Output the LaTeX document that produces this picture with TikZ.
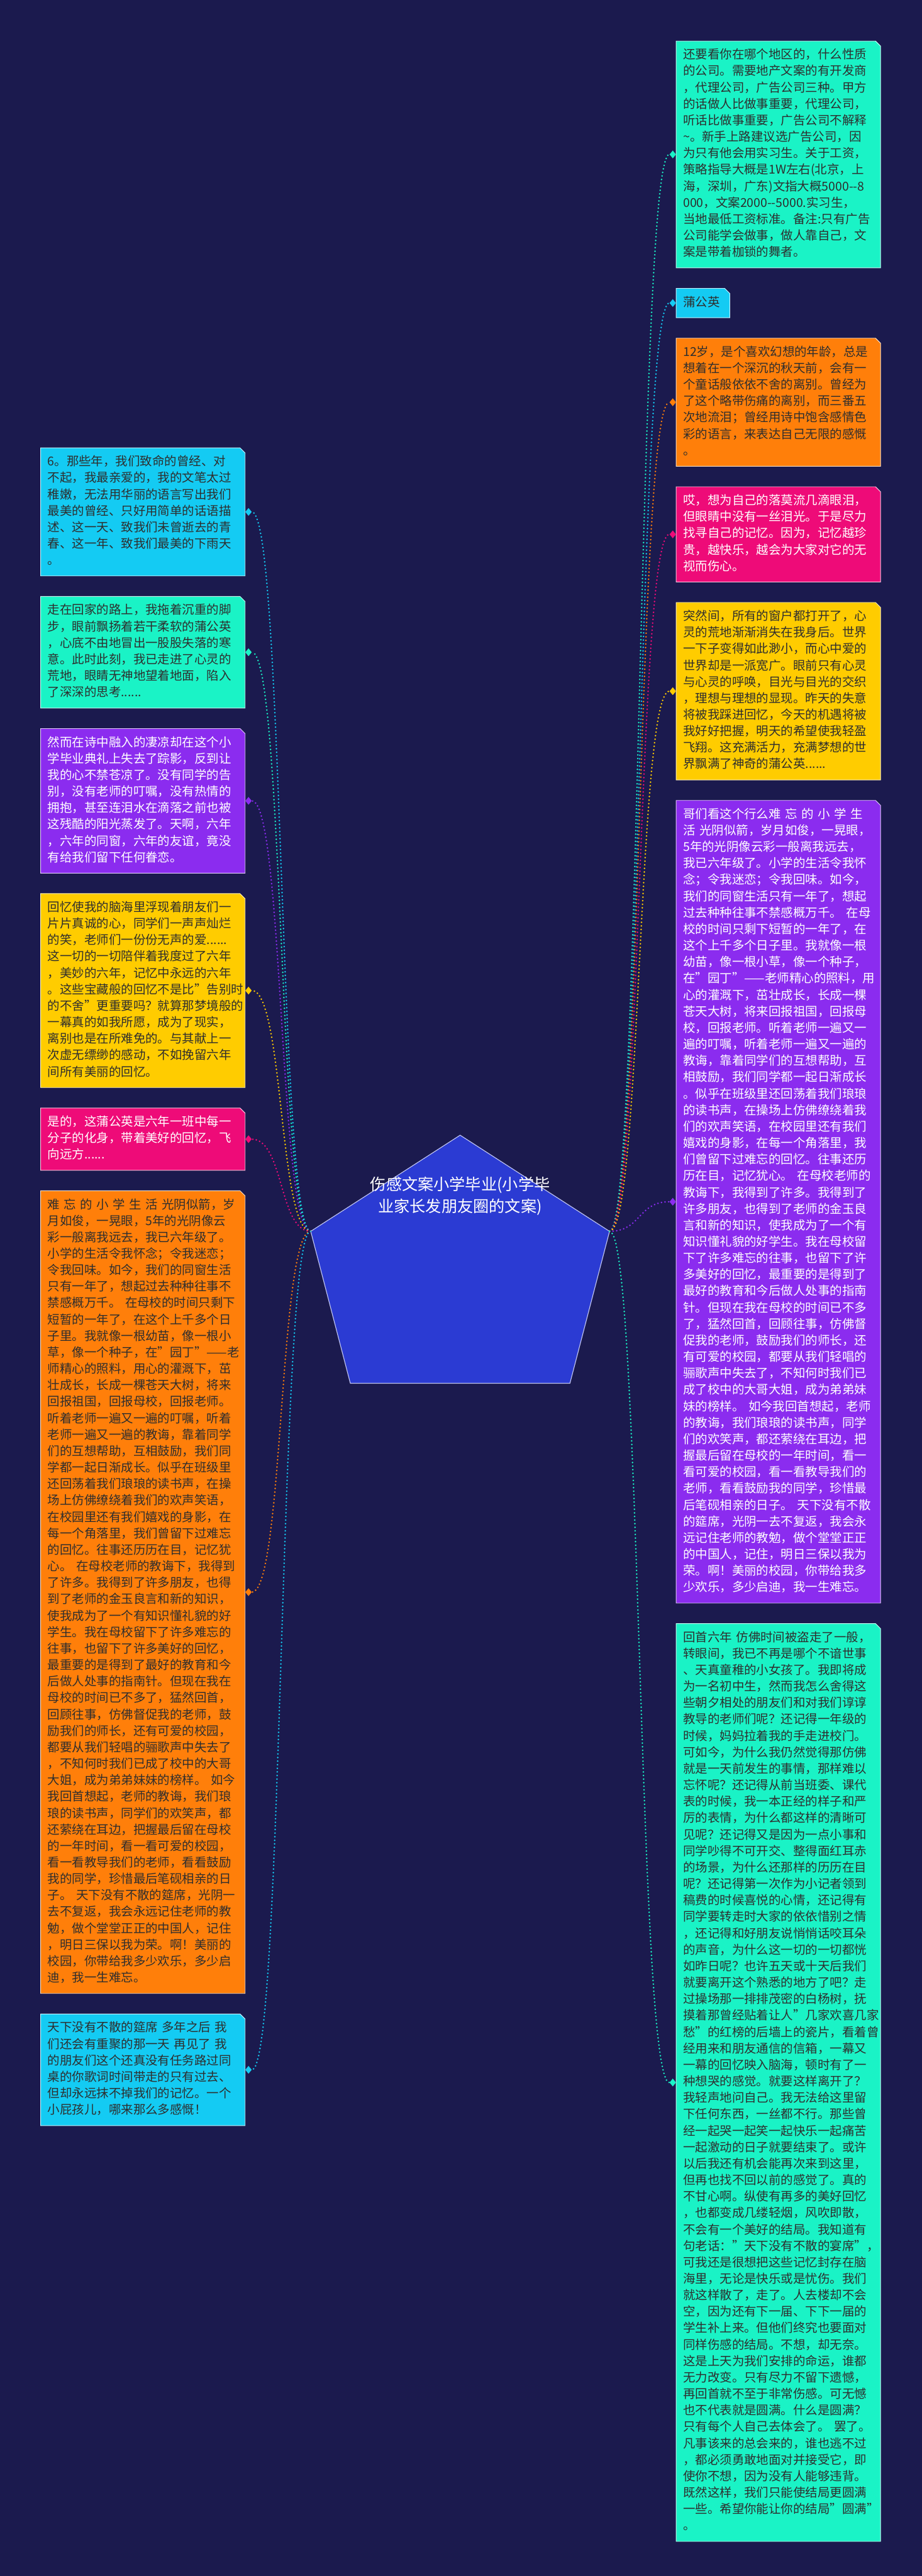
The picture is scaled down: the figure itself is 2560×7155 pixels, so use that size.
\documentclass[tikz,border=0pt]{standalone}
\usepackage{fontspec}
\setmainfont{Noto Sans CJK SC}
\XeTeXdashbreakstate=0
\usetikzlibrary{positioning,shapes.geometric,backgrounds}
\definecolor{bgnavy}{HTML}{1B1A4E}
\definecolor{leafgreen}{HTML}{1AF3C6}
\definecolor{leafcyan}{HTML}{14CBF3}
\definecolor{leaforange}{HTML}{FF7F0A}
\definecolor{leafpink}{HTML}{EE0B78}
\definecolor{leafyellow}{HTML}{FFCC00}
\definecolor{leafpurple}{HTML}{8B2CEF}
\definecolor{rootblue}{HTML}{2B3BD3}
\definecolor{inkdark}{HTML}{2E2E2E}
\tikzset{
  leaf/.style={text width=264.5pt,inner xsep=9.5pt,inner ysep=8.75pt,align=left,
    font=\fontsize{17pt}{22.85pt}\selectfont,text=inkdark,
    execute at begin node=\strut,execute at end node=\strut},
  leafw/.style={leaf,text=white},
  under/.style={below=28.5pt of #1.south west,anchor=north west},
  tip/.style={diamond,fill=#1,inner sep=0pt,minimum width=9pt,minimum height=11pt},
  link/.style={draw=#1,line width=2.4pt,line cap=round,dash pattern=on 0pt off 5pt},
  boxfill/.style={fill=#1,draw=white!75!#1,line width=0.8pt},
}
\begin{document}
\begin{tikzpicture}[x=0.5pt,y=-0.5pt]
\useasboundingbox (0,0) rectangle (2560,7155);
\begin{pgfonlayer}{background}
\fill[bgnavy] (0,0) rectangle (2560,7155);
\end{pgfonlayer}

% root
\filldraw[fill=rootblue,draw=white!70!rootblue,line width=1pt]
  (1278,3153) -- (1693,3420) -- (1583,3842) -- (973,3842) -- (863,3420) -- cycle;
\coordinate (rootR) at (1693,3420);
\coordinate (rootL) at (863,3420);
\node[align=center,text=white,font=\fontsize{22pt}{31pt}\selectfont] (root) at (1278,3322)
  {伤感文案小学毕业(小学毕\\业家长发朋友圈的文案)};

% right side
\node[leaf,anchor=north west] (wenan) at (1878,114) {还要看你在哪个地区的，什么性质\\
的公司。需要地产文案的有开发商\\
，代理公司，广告公司三种。甲方\\
的话做人比做事重要，代理公司，\\
听话比做事重要，广告公司不解释\\
\textasciitilde。新手上路建议选广告公司，因\\
为只有他会用实习生。关于工资，\\
策略指导大概是1W左右(北京，上\\
海，深圳，广东)文指大概5000-{}-8\\
000，文案2000-{}-5000.实习生，\\
当地最低工资标准。备注:只有广告\\
公司能学会做事，做人靠自己，文\\
案是带着枷锁的舞者。};
\node[leaf,text width=55pt,under=wenan] (pgy) {蒲公英};
\node[leaf,under=pgy] (shier) {12岁，是个喜欢幻想的年龄，总是\\
想着在一个深沉的秋天前，会有一\\
个童话般依依不舍的离别。曾经为\\
了这个略带伤痛的离别，而三番五\\
次地流泪；曾经用诗中饱含感情色\\
彩的语言，来表达自己无限的感慨\\
。};
\node[leafw,under=shier] (ai) {哎，想为自己的落莫流几滴眼泪，\\
但眼睛中没有一丝泪光。于是尽力\\
找寻自己的记忆。因为，记忆越珍\\
贵，越快乐，越会为大家对它的无\\
视而伤心。};
\node[leaf,under=ai] (turan) {突然间，所有的窗户都打开了，心\\
灵的荒地渐渐消失在我身后。世界\\
一下子变得如此渺小，而心中爱的\\
世界却是一派宽广。眼前只有心灵\\
与心灵的呼唤，目光与目光的交织\\
，理想与理想的显现。昨天的失意\\
将被我踩进回忆，今天的机遇将被\\
我好好把握，明天的希望使我轻盈\\
飞翔。这充满活力，充满梦想的世\\
界飘满了神奇的蒲公英......};
\node[leafw,under=turan] (gemen) {哥们看这个行么难 忘 的 小 学 生\\
活 光阴似箭，岁月如俊，一晃眼，\\
5年的光阴像云彩一般离我远去，\\
我已六年级了。小学的生活令我怀\\
念；令我迷恋；令我回味。如今，\\
我们的同窗生活只有一年了，想起\\
过去种种往事不禁感概万千。 在母\\
校的时间只剩下短暂的一年了，在\\
这个上千多个日子里。我就像一根\\
幼苗，像一根小草，像一个种子，\\
在"园丁"——老师精心的照料，用\\
心的灌溉下，茁壮成长，长成一棵\\
苍天大树，将来回报祖国，回报母\\
校，回报老师。听着老师一遍又一\\
遍的叮嘱，听着老师一遍又一遍的\\
教诲，靠着同学们的互想帮助，互\\
相鼓励，我们同学都一起日渐成长\\
。似乎在班级里还回荡着我们琅琅\\
的读书声，在操场上仿佛缭绕着我\\
们的欢声笑语，在校园里还有我们\\
嬉戏的身影，在每一个角落里，我\\
们曾留下过难忘的回忆。往事还历\\
历在目，记忆犹心。 在母校老师的\\
教诲下，我得到了许多。我得到了\\
许多朋友，也得到了老师的金玉良\\
言和新的知识，使我成为了一个有\\
知识懂礼貌的好学生。我在母校留\\
下了许多难忘的往事，也留下了许\\
多美好的回忆，最重要的是得到了\\
最好的教育和今后做人处事的指南\\
针。但现在我在母校的时间已不多\\
了，猛然回首，回顾往事，仿佛督\\
促我的老师，鼓励我们的师长，还\\
有可爱的校园，都要从我们轻唱的\\
骊歌声中失去了，不知何时我们已\\
成了校中的大哥大姐，成为弟弟妹\\
妹的榜样。 如今我回首想起，老师\\
的教诲，我们琅琅的读书声，同学\\
们的欢笑声，都还萦绕在耳边，把\\
握最后留在母校的一年时间，看一\\
看可爱的校园，看一看教导我们的\\
老师，看看鼓励我的同学，珍惜最\\
后笔砚相亲的日子。 天下没有不散\\
的筵席，光阴一去不复返，我会永\\
远记住老师的教勉，做个堂堂正正\\
的中国人，记住，明日三保以我为\\
荣。啊！美丽的校园，你带给我多\\
少欢乐，多少启迪，我一生难忘。};
\node[leaf,under=gemen] (huishou) {回首六年 仿佛时间被盗走了一般，\\
转眼间，我已不再是哪个不谙世事\\
、天真童稚的小女孩了。我即将成\\
为一名初中生，然而我怎么舍得这\\
些朝夕相处的朋友们和对我们谆谆\\
教导的老师们呢？还记得一年级的\\
时候，妈妈拉着我的手走进校门。\\
可如今，为什么我仍然觉得那仿佛\\
就是一天前发生的事情，那样难以\\
忘怀呢？还记得从前当班委、课代\\
表的时候，我一本正经的样子和严\\
厉的表情，为什么都这样的清晰可\\
见呢？还记得又是因为一点小事和\\
同学吵得不可开交、整得面红耳赤\\
的场景，为什么还那样的历历在目\\
呢？还记得第一次作为小记者领到\\
稿费的时候喜悦的心情，还记得有\\
同学要转走时大家的依依惜别之情\\
，还记得和好朋友说悄悄话咬耳朵\\
的声音，为什么这一切的一切都恍\\
如昨日呢？也许五天或十天后我们\\
就要离开这个熟悉的地方了吧？走\\
过操场那一排排茂密的白杨树，抚\\
摸着那曾经贴着让人"几家欢喜几家\\
愁"的红榜的后墙上的瓷片，看着曾\\
经用来和朋友通信的信箱，一幕又\\
一幕的回忆映入脑海，顿时有了一\\
种想哭的感觉。就要这样离开了？\\
我轻声地问自己。我无法给这里留\\
下任何东西，一丝都不行。那些曾\\
经一起哭一起笑一起快乐一起痛苦\\
一起激动的日子就要结束了。或许\\
以后我还有机会能再次来到这里，\\
但再也找不回以前的感觉了。真的\\
不甘心啊。纵使有再多的美好回忆\\
，也都变成几缕轻烟，风吹即散，\\
不会有一个美好的结局。我知道有\\
句老话："天下没有不散的宴席"，\\
可我还是很想把这些记忆封存在脑\\
海里，无论是快乐或是忧伤。我们\\
就这样散了，走了。人去楼却不会\\
空，因为还有下一届、下下一届的\\
学生补上来。但他们终究也要面对\\
同样伤感的结局。不想，却无奈。\\
这是上天为我们安排的命运，谁都\\
无力改变。只有尽力不留下遗憾，\\
再回首就不至于非常伤感。可无憾\\
也不代表就是圆满。什么是圆满？\\
只有每个人自己去体会了。 罢了。\\
凡事该来的总会来的，谁也逃不过\\
，都必须勇敢地面对并接受它，即\\
使你不想，因为没有人能够违背。\\
既然这样，我们只能使结局更圆满\\
一些。希望你能让你的结局"圆满"\\
。};

% left side
\node[leaf,anchor=north west] (naxie) at (113,1244) {6。那些年，我们致命的曾经、对\\
不起，我最亲爱的，我的文笔太过\\
稚嫩，无法用华丽的语言写出我们\\
最美的曾经、只好用简单的话语描\\
述、这一天、致我们未曾逝去的青\\
春、这一年、致我们最美的下雨天\\
。};
\node[leaf,under=naxie] (zouzai) {走在回家的路上，我拖着沉重的脚\\
步，眼前飘扬着若干柔软的蒲公英\\
，心底不由地冒出一股股失落的寒\\
意。此时此刻，我已走进了心灵的\\
荒地，眼睛无神地望着地面，陷入\\
了深深的思考......};
\node[leafw,under=zouzai] (raner) {然而在诗中融入的凄凉却在这个小\\
学毕业典礼上失去了踪影，反到让\\
我的心不禁苍凉了。没有同学的告\\
别，没有老师的叮嘱，没有热情的\\
拥抱，甚至连泪水在滴落之前也被\\
这残酷的阳光蒸发了。天啊，六年\\
，六年的同窗，六年的友谊，竟没\\
有给我们留下任何眷恋。};
\node[leaf,under=raner] (huiyi) {回忆使我的脑海里浮现着朋友们一\\
片片真诚的心，同学们一声声灿烂\\
的笑，老师们一份份无声的爱......\\
这一切的一切陪伴着我度过了六年\\
，美妙的六年，记忆中永远的六年\\
。这些宝藏般的回忆不是比"告别时\\
的不舍"更重要吗？就算那梦境般的\\
一幕真的如我所愿，成为了现实，\\
离别也是在所难免的。与其献上一\\
次虚无缥缈的感动，不如挽留六年\\
间所有美丽的回忆。};
\node[leafw,under=huiyi] (shide) {是的，这蒲公英是六年一班中每一\\
分子的化身，带着美好的回忆，飞\\
向远方......};
\node[leaf,under=shide] (nanwang) {难 忘 的 小 学 生 活 光阴似箭，岁\\
月如俊，一晃眼，5年的光阴像云\\
彩一般离我远去，我已六年级了。\\
小学的生活令我怀念；令我迷恋；\\
令我回味。如今，我们的同窗生活\\
只有一年了，想起过去种种往事不\\
禁感概万千。 在母校的时间只剩下\\
短暂的一年了，在这个上千多个日\\
子里。我就像一根幼苗，像一根小\\
草，像一个种子，在"园丁"——老\\
师精心的照料，用心的灌溉下，茁\\
壮成长，长成一棵苍天大树，将来\\
回报祖国，回报母校，回报老师。\\
听着老师一遍又一遍的叮嘱，听着\\
老师一遍又一遍的教诲，靠着同学\\
们的互想帮助，互相鼓励，我们同\\
学都一起日渐成长。似乎在班级里\\
还回荡着我们琅琅的读书声，在操\\
场上仿佛缭绕着我们的欢声笑语，\\
在校园里还有我们嬉戏的身影，在\\
每一个角落里，我们曾留下过难忘\\
的回忆。往事还历历在目，记忆犹\\
心。 在母校老师的教诲下，我得到\\
了许多。我得到了许多朋友，也得\\
到了老师的金玉良言和新的知识，\\
使我成为了一个有知识懂礼貌的好\\
学生。我在母校留下了许多难忘的\\
往事，也留下了许多美好的回忆，\\
最重要的是得到了最好的教育和今\\
后做人处事的指南针。但现在我在\\
母校的时间已不多了，猛然回首，\\
回顾往事，仿佛督促我的老师，鼓\\
励我们的师长，还有可爱的校园，\\
都要从我们轻唱的骊歌声中失去了\\
，不知何时我们已成了校中的大哥\\
大姐，成为弟弟妹妹的榜样。 如今\\
我回首想起，老师的教诲，我们琅\\
琅的读书声，同学们的欢笑声，都\\
还萦绕在耳边，把握最后留在母校\\
的一年时间，看一看可爱的校园，\\
看一看教导我们的老师，看看鼓励\\
我的同学，珍惜最后笔砚相亲的日\\
子。 天下没有不散的筵席，光阴一\\
去不复返，我会永远记住老师的教\\
勉，做个堂堂正正的中国人，记住\\
，明日三保以我为荣。啊！美丽的\\
校园，你带给我多少欢乐，多少启\\
迪，我一生难忘。};
\node[leaf,under=nanwang] (tianxia) {天下没有不散的筵席 多年之后 我\\
们还会有重聚的那一天 再见了 我\\
的朋友们这个还真没有任务路过同\\
桌的你歌词时间带走的只有过去、\\
但却永远抹不掉我们的记忆。一个\\
小屁孩儿，哪来那么多感慨！};

\foreach \n/\c in {wenan/leafgreen,pgy/leafcyan,shier/leaforange,ai/leafpink,
    turan/leafyellow,gemen/leafpurple,huishou/leafgreen}{
  \begin{pgfonlayer}{background}
  \filldraw[boxfill=\c] (\n.south west) -- (\n.north west) -- ([xshift=-7pt]\n.north east)
    -- ([yshift=-7pt]\n.north east) -- (\n.south east) -- cycle;
  \end{pgfonlayer}
  \node[tip=\c,left=0pt of \n] (d\n) {};
  \draw[link=\c] (rootR) .. controls +(88,0) and +(-88,0) .. (d\n.west);
}
\foreach \n/\c in {naxie/leafcyan,zouzai/leafgreen,raner/leafpurple,huiyi/leafyellow,
    shide/leafpink,nanwang/leaforange,tianxia/leafcyan}{
  \begin{pgfonlayer}{background}
  \filldraw[boxfill=\c] (\n.south west) -- (\n.north west) -- ([xshift=-7pt]\n.north east)
    -- ([yshift=-7pt]\n.north east) -- (\n.south east) -- cycle;
  \end{pgfonlayer}
  \node[tip=\c,right=0pt of \n] (d\n) {};
  \draw[link=\c] (rootL) .. controls +(-88,0) and +(88,0) .. (d\n.east);
}
\end{tikzpicture}
\end{document}
